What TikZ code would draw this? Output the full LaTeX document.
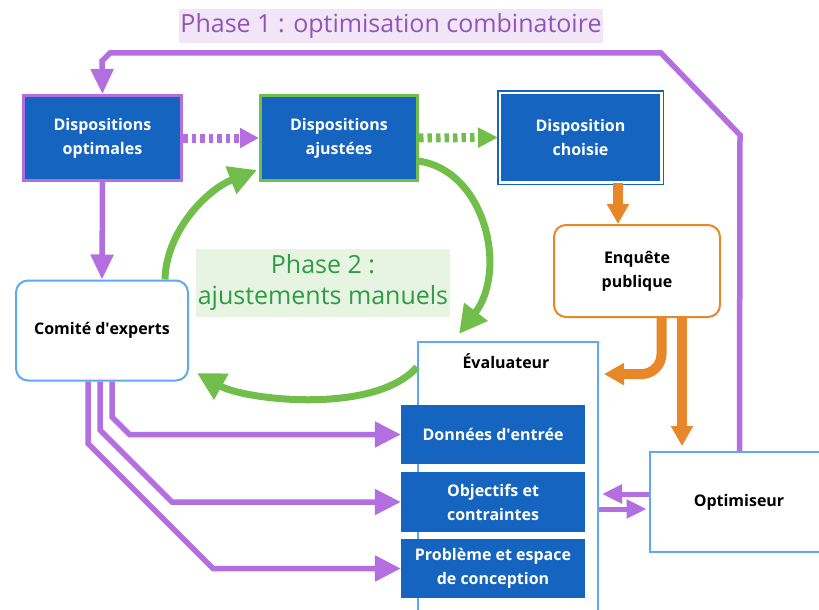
\documentclass[tikz,border=0pt]{standalone}
\usepackage{fontspec}
\setmainfont{Open Sans}
\usetikzlibrary{arrows.meta,calc}
\definecolor{cblue}{HTML}{1565C0}
\definecolor{clight}{HTML}{5EAAF2}
\definecolor{cpurp}{HTML}{B36FE0}
\definecolor{cptext}{HTML}{9155B8}
\definecolor{cpbg}{HTML}{F2E5F8}
\definecolor{cgreen}{HTML}{72BE4A}
\definecolor{cgtext}{HTML}{2E9B45}
\definecolor{cgbg}{HTML}{E6F4E1}
\definecolor{corange}{HTML}{E8872A}
\newcommand{\nfont}{\bfseries\fontsize{16}{24}\selectfont}
\begin{document}
\begin{tikzpicture}[x=1pt,y=-1pt,
  bluebox/.style={rectangle, fill=cblue, text=white, font=\nfont, align=center, inner sep=0pt},
  whitebox/.style={rectangle, fill=white, draw=clight, line width=2pt, text=black, font=\nfont, align=center, inner sep=0pt},
  pline/.style={draw=cpurp, line width=5.5pt},
  parrow/.style={pline, -{Triangle[length=26pt,width=25pt]}},
  pdot/.style={draw=cpurp, line width=9pt, dash pattern=on 4.5pt off 4pt, -{Triangle[length=19pt,width=19pt]}},
  gdot/.style={draw=cgreen, line width=9pt, dash pattern=on 4.5pt off 4pt, -{Triangle[length=20pt,width=19pt]}},
  garrow/.style={draw=cgreen, line width=7pt, -{Triangle[length=28pt,width=28pt]}},
  oarrow/.style={draw=corange, line width=10pt, -{Triangle[length=20pt,width=21pt]}},
  smallp/.style={draw=cpurp, line width=5pt, -{Triangle[length=20pt,width=18pt]}}
]
\clip (0,0) rectangle (819,610);
\fill[white] (0,0) rectangle (819,610);

% phase labels
\node[fill=cpbg, text=cptext, font=\fontsize{25}{30}\selectfont, minimum width=424pt, minimum height=34pt, inner sep=0pt] (ph1) at (391,26) {Phase 1 : optimisation combinatoire};
\node[fill=cgbg, text=cgtext, font=\fontsize{25}{31}\selectfont, align=center, minimum width=254pt, minimum height=68pt, inner sep=0pt] (ph2) at (323,283) {Phase 2 :\\ajustements manuels};

% top boxes
\node[bluebox, draw=cpurp, line width=3pt, minimum width=158pt, minimum height=85pt] (opt) at (102.5,138) {Dispositions\\optimales};
\node[bluebox, draw=cgreen, line width=3pt, minimum width=157pt, minimum height=85pt] (adj) at (339,138) {Dispositions\\ajustées};
\node[bluebox, draw=cblue, line width=1.5pt, double=white, double distance=2.5pt, minimum width=161.5pt, minimum height=89.5pt] (cho) at (580.5,137.5) {Disposition\\choisie};

% white boxes
\node[whitebox, rounded corners=12pt, minimum width=172pt, minimum height=100pt] (com) at (102,330.5) {Comité d\textquotesingle experts};
\node[whitebox, draw=corange, rounded corners=12pt, minimum width=166pt, minimum height=92pt] (enq) at (637,271) {Enquête\\publique};
\node[whitebox, minimum width=180pt, minimum height=300pt] (eval) at (508,492) {};
\node[font=\nfont, text=black] (evl) at (506,361) {Évaluateur};
\node[whitebox, minimum width=179pt, minimum height=100pt] (optim) at (739,502) {Optimiseur};

% inner boxes
\node[bluebox, minimum width=184pt, minimum height=59pt] (don) at (493,434.5) {Données d\textquotesingle entrée};
\node[bluebox, minimum width=184pt, minimum height=60pt] (obj) at (493,502) {Objectifs et\\contraintes};
\node[bluebox, minimum width=184pt, minimum height=59pt] (prob) at (493,568.5) {Problème et espace\\de conception};

% dotted arrows
\draw[pdot] (opt.east) -- (adj.west);
\draw[gdot] (adj.east) -- ($(cho.west)+(-1,0)$);

% purple loop
\draw[parrow, -{Triangle[length=25pt,width=22pt]}] ($(optim.north west)+(91,0)$) -- (740,135) -- (661,53) -- (110,53) -- (102,61) -- (opt.north);
\draw[parrow, -{Triangle[length=25pt,width=22pt]}] (opt.south) -- (com.north);

% committee lines
\draw[parrow] ($(com.south)+(10,0)$) -- ($(com.south |- don.west)+(10,-17.5)$) -- ($(com.south |- don.west)+(27.5,0)$) -- (don.west);
\draw[parrow] ($(com.south)+(-2,0)$) -- ($(com.south |- obj.west)+(-2,-72)$) -- ($(com.south |- obj.west)+(70,0)$) -- (obj.west);
\draw[parrow] ($(com.south)+(-14,0)$) -- ($(com.south |- prob.west)+(-14,-125)$) -- ($(com.south |- prob.west)+(111,0)$) -- (prob.west);

% optimiseur <-> evaluateur
\draw[smallp] ($(optim.west)+(0,-8)$) -- ($(eval.east)+(3,2)$);
\draw[smallp] ($(eval.east)+(0,17)$) -- ($(optim.west)+(-2,7)$);

% orange
\draw[oarrow] ($(cho.south)+(37.5,0)$) -- ($(enq.north)+(-19,0)$);
\draw[oarrow, rounded corners=20pt] ($(enq.south)+(24.5,0)$) |- ($(eval.east |- evl.south)+(5,2)$);
\draw[oarrow] ($(enq.south)+(45,0)$) -- ($(optim.north)+(-57,-5)$);

% green arcs
\draw[garrow] ($(com.north)+(63,0)$) .. controls (166,232) and (206,190) .. ($(adj.south west)+(-2,-12)$);
\draw[garrow] ($(adj.east)+(-1,23)$) .. controls (485,170) and (508,270) .. ($(eval.north west)+(42,-7)$);
\draw[garrow] ($(eval.north west)+(0,26)$) .. controls (375,415) and (245,400) .. ($(com.east)+(8,42.5)$);
\end{tikzpicture}
\end{document}
